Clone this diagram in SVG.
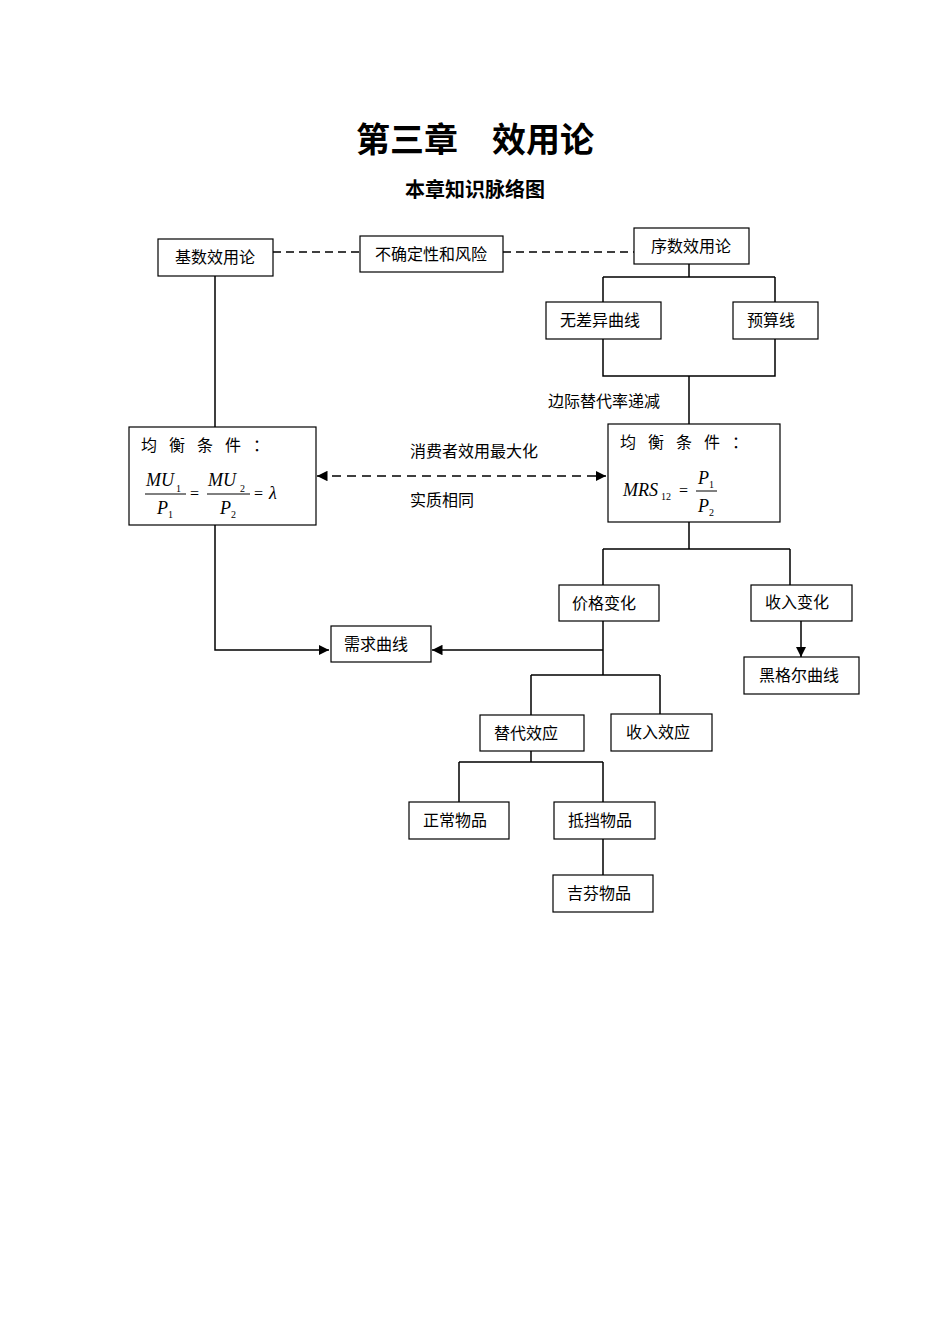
<svg xmlns="http://www.w3.org/2000/svg" width="950" height="1344" viewBox="0 0 950 1344">
<style>
text{font-family:"Liberation Serif","Noto Sans CJK SC",serif;fill:#000}
.t{font-size:16px}
.b{fill:#fff;stroke:#000;stroke-width:1.2}
.l{stroke:#000;stroke-width:1.5;fill:none}
.m{font-style:italic;font-size:18px}
.s{font-size:10px}
</style>
<defs>
<marker id="a" viewBox="0 0 10 10" refX="10" refY="5" markerWidth="7" markerHeight="7" orient="auto-start-reverse"><path d="M0,0L10,5L0,10z"/></marker>
</defs>
<rect width="950" height="1344" fill="#fff"/>
<text x="475" y="152" font-size="34" font-weight="bold" text-anchor="middle">第三章　效用论</text>
<text x="475" y="197" font-size="20" font-weight="bold" text-anchor="middle">本章知识脉络图</text>
<g id="connectors">
<path class="l" d="M273,252H360M503,252H634" stroke-dasharray="8,5" stroke-width="1"/>
<path class="l" d="M689,264V277M603,277H775M603,277V302M775,277V302M603,339V376H775V339M689,376V424M215,276V427"/>
<path class="l" d="M317,476H606" stroke-width="2" stroke-dasharray="9,6" marker-start="url(#a)" marker-end="url(#a)"/>
<path class="l" d="M215,525V650H329" marker-end="url(#a)"/>
<path class="l" d="M689,522V549M603,549H790M603,549V585M790,549V585"/>
<path class="l" d="M801,621V657" marker-end="url(#a)"/>
<path class="l" d="M603,621V675M603,650H432" marker-end="url(#a)"/>
<path class="l" d="M531,675H660M531,675V715M660,675V714M531,751V762M459,762H603M459,762V802M603,762V802M603,839V875"/>
<text x="548" y="407" class="t">边际替代率递减</text>
<text x="410" y="457" class="t">消费者效用最大化</text>
<text x="410" y="506" class="t">实质相同</text>
</g>
<g id="n1"><rect class="b" x="158" y="239" width="115" height="37"/><text x="215" y="263" class="t" text-anchor="middle">基数效用论</text></g>
<g id="n2"><rect class="b" x="360" y="236" width="143" height="36"/><text x="431" y="260" class="t" text-anchor="middle">不确定性和风险</text></g>
<g id="n3"><rect class="b" x="634" y="228" width="115" height="36"/><text x="691" y="252" class="t" text-anchor="middle">序数效用论</text></g>
<g id="n4"><rect class="b" x="546" y="302" width="115" height="37"/><text x="600" y="326" class="t" text-anchor="middle">无差异曲线</text></g>
<g id="n5"><rect class="b" x="733" y="302" width="85" height="37"/><text x="771" y="326" class="t" text-anchor="middle">预算线</text></g>
<g id="n6"><rect class="b" x="129" y="427" width="187" height="98"/>
<text x="141" y="451" class="t" xml:space="preserve">均   衡   条   件   ：</text>
<text x="146" y="486" class="m">MU</text><text x="176" y="492" class="s">1</text>
<line x1="145" y1="494" x2="186" y2="494" stroke="#000"/>
<text x="157" y="514" class="m">P</text><text x="168" y="518" class="s">1</text>
<text x="190" y="499" font-size="16">=</text>
<text x="208" y="486" class="m">MU</text><text x="240" y="492" class="s">2</text>
<line x1="207" y1="494" x2="250" y2="494" stroke="#000"/>
<text x="220" y="514" class="m">P</text><text x="231" y="518" class="s">2</text>
<text x="254" y="499" font-size="16">=</text>
<text x="269" y="499" class="m">λ</text></g>
<g id="n7"><rect class="b" x="608" y="424" width="172" height="98"/>
<text x="620" y="448" class="t" xml:space="preserve">均   衡   条   件   ：</text>
<text x="623" y="496" class="m">MRS</text><text x="661" y="500" class="s">12</text>
<text x="679" y="496" font-size="16">=</text>
<text x="698" y="484" class="m">P</text><text x="709" y="488" class="s">1</text>
<line x1="696" y1="491" x2="717" y2="491" stroke="#000"/>
<text x="698" y="512" class="m">P</text><text x="709" y="516" class="s">2</text></g>
<g id="n8"><rect class="b" x="331" y="626" width="100" height="36"/><text x="376" y="650" class="t" text-anchor="middle">需求曲线</text></g>
<g id="n9"><rect class="b" x="559" y="585" width="100" height="36"/><text x="604" y="609" class="t" text-anchor="middle">价格变化</text></g>
<g id="n10"><rect class="b" x="751" y="585" width="101" height="36"/><text x="797" y="608" class="t" text-anchor="middle">收入变化</text></g>
<g id="n11"><rect class="b" x="744" y="657" width="115" height="37"/><text x="799" y="681" class="t" text-anchor="middle">黑格尔曲线</text></g>
<g id="n12"><rect class="b" x="480" y="715" width="104" height="36"/><text x="526" y="739" class="t" text-anchor="middle">替代效应</text></g>
<g id="n13"><rect class="b" x="611" y="714" width="101" height="37"/><text x="658" y="738" class="t" text-anchor="middle">收入效应</text></g>
<g id="n14"><rect class="b" x="409" y="802" width="100" height="37"/><text x="455" y="826" class="t" text-anchor="middle">正常物品</text></g>
<g id="n15"><rect class="b" x="554" y="802" width="101" height="37"/><text x="600" y="826" class="t" text-anchor="middle">抵挡物品</text></g>
<g id="n16"><rect class="b" x="553" y="875" width="100" height="37"/><text x="599" y="899" class="t" text-anchor="middle">吉芬物品</text></g>
</svg>
